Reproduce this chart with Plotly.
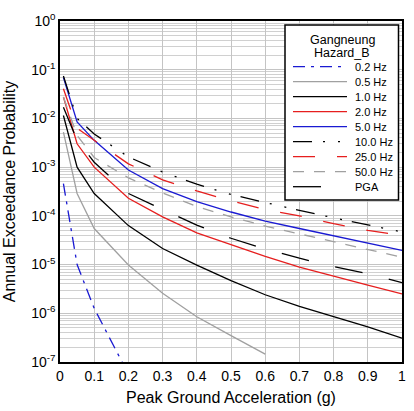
import plotly.graph_objects as go

pga_g = [0.01, 0.05, 0.1, 0.2, 0.3, 0.4, 0.5, 0.6, 0.7, 0.8, 0.9, 1.0]

hz_0_2 = [4.57e-4, 1.0e-5, 1.26e-6, 5.62e-8]
hz_0_5 = [5.25e-3, 2.88e-4, 5.50e-5, 9.77e-6, 2.57e-6, 8.51e-7, 3.47e-7, 1.45e-7]
hz_1_0 = [1.15e-2, 1.0e-3, 2.88e-4, 6.31e-5, 2.14e-5, 9.77e-6, 4.68e-6, 2.40e-6, 1.38e-6, 8.51e-7, 5.25e-7, 3.09e-7]
hz_2_0 = [2.75e-2, 3.02e-3, 1.0e-3, 2.29e-4, 9.55e-5, 4.47e-5, 2.57e-5, 1.48e-5, 8.91e-6, 5.75e-6, 3.80e-6, 2.51e-6]
hz_5_0 = [6.92e-2, 8.51e-3, 3.55e-3, 8.71e-4, 3.63e-4, 1.95e-4, 1.20e-4, 7.76e-5, 5.50e-5, 3.89e-5, 2.75e-5, 1.95e-5]
hz_10_0 = [7.41e-2, 1.0e-2, 4.79e-3, 1.62e-3, 7.94e-4, 4.47e-4, 2.75e-4, 1.86e-4, 1.29e-4, 9.12e-5, 6.46e-5, 4.68e-5]
hz_25_0 = [4.07e-2, 6.31e-3, 3.55e-3, 1.17e-3, 5.50e-4, 3.24e-4, 2.04e-4, 1.35e-4, 1.0e-4, 6.92e-5, 5.01e-5, 3.98e-5]
hz_50_0 = [2.75e-2, 4.47e-3, 1.58e-3, 6.03e-4, 2.95e-4, 1.55e-4, 9.55e-5, 6.17e-5, 4.27e-5, 2.95e-5, 2.04e-5, 1.41e-5]
pga = [1.70e-2, 3.55e-3, 1.26e-3, 2.88e-4, 1.35e-4, 6.46e-5, 3.47e-5, 2.09e-5, 1.35e-5, 9.12e-6, 6.46e-6, 4.27e-6]

x_ticks = [0, 0.1, 0.2, 0.3, 0.4, 0.5, 0.6, 0.7, 0.8, 0.9, 1.0]
x_tick_labels = ["0", "0.1", "0.2", "0.3", "0.4", "0.5", "0.6", "0.7", "0.8", "0.9", "1"]
y_ticks = [1, 1e-1, 1e-2, 1e-3, 1e-4, 1e-5, 1e-6, 1e-7]
y_tick_labels = ["10<sup>0</sup>", "10<sup>-1</sup>", "10<sup>-2</sup>", "10<sup>-3</sup>",
                 "10<sup>-4</sup>", "10<sup>-5</sup>", "10<sup>-6</sup>", "10<sup>-7</sup>"]
legend_title = ["Gangneung", "Hazard_B"]

BLUE = "#1a1ad2"
RED = "#e61e1e"
GRAY = "#a0a0a0"
BLACK = "#000000"

series = [
    ("0.2 Hz", hz_0_2, BLUE, "12px,6px,3px,6px"),
    ("0.5 Hz", hz_0_5, GRAY, "solid"),
    ("1.0 Hz", hz_1_0, BLACK, "solid"),
    ("2.0 Hz", hz_2_0, RED, "solid"),
    ("5.0 Hz", hz_5_0, BLUE, "solid"),
    ("10.0 Hz", hz_10_0, BLACK, "19px,11px,2px,13px,2px,10px"),
    ("25.0 Hz", hz_25_0, RED, "22px,22px"),
    ("50.0 Hz", hz_50_0, GRAY, "11px,10px"),
    ("PGA", pga, BLACK, "28px,27px"),
]

W, H = 414, 411
ML, MR, MT, MB = 60, 12, 21, 49
PW, PH = W - ML - MR, H - MT - MB


def px_x(px):
    return (px - ML) / PW


def px_y(py):
    return (H - MB - py) / PH


FONT = "Liberation Sans, Arial, sans-serif"

fig = go.Figure()
for name, vals, color, dash in series:
    fig.add_trace(go.Scatter(
        x=pga_g[:len(vals)], y=vals, mode="lines", name=name, showlegend=False,
        line=dict(color=color, width=1.3, dash=dash),
    ))

# legend box (drawn manually to match the compact reference legend)
shapes = [dict(type="rect", xref="paper", yref="paper",
               x0=px_x(285), x1=px_x(398.5), y0=px_y(200), y1=px_y(25),
               fillcolor="white", line=dict(color="black", width=1.5), layer="above")]
annotations = []
for i, txt in enumerate(legend_title):
    annotations.append(dict(xref="paper", yref="paper", x=px_x(342), y=px_y(40 + 12.5 * i),
                            text=txt, showarrow=False, xanchor="center", yanchor="middle",
                            font=dict(size=12.5, family=FONT, color="black")))
for i, (name, vals, color, dash) in enumerate(series):
    yy = px_y(66.7 + 15 * i)
    shapes.append(dict(type="line", xref="paper", yref="paper",
                       x0=px_x(293), x1=px_x(347), y0=yy, y1=yy,
                       line=dict(color=color, width=1.3, dash=dash), layer="above"))
    annotations.append(dict(xref="paper", yref="paper", x=px_x(353), y=yy,
                            text=name, showarrow=False, xanchor="left", yanchor="middle",
                            font=dict(size=11, family=FONT, color="black")))

fig.update_layout(
    width=W, height=H,
    margin=dict(l=ML, r=MR, t=MT, b=MB),
    paper_bgcolor="white", plot_bgcolor="white",
    font=dict(family=FONT, color="black", size=14),
    showlegend=False,
    shapes=shapes,
    annotations=annotations,
    xaxis=dict(
        range=[0, 1], tickvals=x_ticks, ticktext=x_tick_labels,
        showgrid=True, gridcolor="#c4c4c4", gridwidth=1,
        showline=True, linecolor="black", linewidth=1.5, mirror=True,
        ticks="", zeroline=False, automargin=False,
        title=dict(text="Peak Ground Acceleration (g)", font=dict(size=16), standoff=9),
        tickfont=dict(size=14),
    ),
    yaxis=dict(
        type="log", range=[-7, 0], tickvals=y_ticks, ticktext=y_tick_labels,
        showgrid=True, gridcolor="#c4c4c4", gridwidth=1,
        minor=dict(dtick="D1", showgrid=True, gridcolor="#d0d0d0", gridwidth=1),
        showline=True, linecolor="black", linewidth=1.5, mirror=True,
        ticks="", zeroline=False, automargin=False,
        title=dict(text="Annual Exceedance Probability", font=dict(size=16), standoff=12),
        tickfont=dict(size=14),
    ),
)

fig.write_html("out.html", config={"displayModeBar": False},
               post_script="document.body.style.margin='0';document.body.style.padding='0';")
